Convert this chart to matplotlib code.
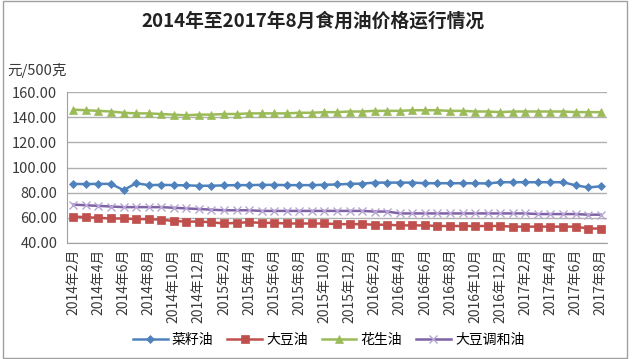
import matplotlib
matplotlib.use("Agg")
import matplotlib.pyplot as plt
from matplotlib.patches import Rectangle

plt.rcParams['font.family'] = ['Noto Sans CJK SC', 'DejaVu Sans']

months = []
for y in range(2014, 2018):
    for m in range(1, 13):
        if (y == 2014 and m < 2) or (y == 2017 and m > 8):
            continue
        months.append(f"{y}年{m}月")

rapeseed = [87, 86.8, 87, 87, 82, 87.5, 86, 86.2, 86, 85.8, 85.5, 85.5, 85.8, 86, 86,
            86.2, 86.2, 86, 86, 86, 86.3, 86.5, 87, 87.2, 88, 88, 88, 88, 87.5, 87.5,
            87.5, 87.5, 87.5, 87.3, 88.3, 88.3, 88.3, 88.3, 88.3, 88.3, 85.8, 84.2, 85]
soybean = [61, 60.5, 60, 59.5, 59.5, 59, 59, 58.5, 57.5, 57, 57, 56.5, 55.5, 56, 56.5,
           56, 56, 55.5, 55.5, 55.5, 55.5, 55, 55, 55, 54.5, 54.5, 54, 54, 54, 53.5,
           53.5, 53.5, 53.5, 53.5, 53.5, 53, 53, 53, 53, 53, 53, 51.5, 51.5]
peanut = [146, 145.5, 145, 144.5, 143.5, 143, 143, 142.5, 142, 141.5, 142, 142, 142.5,
          142.5, 143, 143, 143, 143, 143.5, 143.5, 144, 144, 144.5, 144.5, 145, 145, 145,
          145.5, 145.5, 145.5, 145, 145, 144.5, 144.5, 144, 144.5, 144.5, 144.5, 144.5,
          144.5, 144, 144, 144]
blend = [70.5, 70, 69.5, 69, 68.5, 68.5, 68.5, 68.5, 68, 67.5, 67, 66.5, 66, 66, 66,
         65.5, 65.5, 65.5, 65.5, 65.5, 65.5, 65.5, 65.5, 65.5, 65, 65, 63.5, 63.5, 63.5,
         63.5, 63.5, 63.5, 63.5, 63.5, 63.5, 63.5, 63.5, 63, 63, 63, 63, 62.5, 62.5]

names = ["菜籽油", "大豆油", "花生油", "大豆调和油"]
series = [rapeseed, soybean, peanut, blend]
colors = ["#4F81BD", "#C0504D", "#9BBB59", "#7F63A6"]
edge_colors = ["#4F81BD", "#C0504D", "#9BBB59", "#B7A6D3"]
markers = ["D", "s", "^", "x"]
msizes = [4, 6, 6, 6]

yticks = [40, 60, 80, 100, 120, 140, 160]

fig = plt.figure(figsize=(6.32, 3.59), dpi=100)
ax = fig.add_axes([67/632, 1-243/359, 540/632, 151/359])

x = list(range(len(months)))
handles = []
for s, c, ec, mk, ms, nm in zip(series, colors, edge_colors, markers, msizes, names):
    h, = ax.plot(x, s, color=c, marker=mk, markersize=ms, lw=1.8, label=nm,
                 markeredgecolor=ec, markerfacecolor=ec,
                 markeredgewidth=1.0 if mk == "x" else 0.5)
    handles.append(h)

ax.set_xlim(-0.5, len(months) - 0.5)
ax.set_ylim(40, 160)
ax.set_yticks(yticks)
ax.set_yticklabels([f"{v:.2f}" for v in yticks], fontsize=10.5, color="#3A3A3A")
ax.yaxis.grid(True, color="#B0B0B0", lw=1.0)
ax.set_axisbelow(True)
ax.tick_params(axis='y', length=0, pad=7)
ax.set_xticks(x[::2])
ax.set_xticklabels(months[::2], rotation=90, fontsize=10, color="#3A3A3A")
ax.tick_params(axis='x', length=0, pad=4)
for sp in ["top", "right"]:
    ax.spines[sp].set_visible(False)
ax.spines["left"].set_color("#A0A0A0")
ax.spines["bottom"].set_color("#A0A0A0")

fig.text(0.495, 1-21/359, "2014年至2017年8月食用油价格运行情况", ha="center", va="center",
         fontsize=13.5, fontweight="bold", color="#222222")
fig.text(7/632, 1-70/359, "元/500克", ha="left", va="center", fontsize=10.5, color="#3A3A3A")

fig.legend(handles=handles, loc="center", bbox_to_anchor=(0.52, 1-340/359), ncol=4,
           frameon=False, fontsize=10, handlelength=2.5, columnspacing=1.0,
           handletextpad=0.3)

fig.add_artist(Rectangle((0.004, 0.003), 0.988, 0.994, transform=fig.transFigure,
                         fill=False, edgecolor="#A0A0A0", lw=1.0))

fig.savefig("out.png", dpi=100, facecolor="white")
